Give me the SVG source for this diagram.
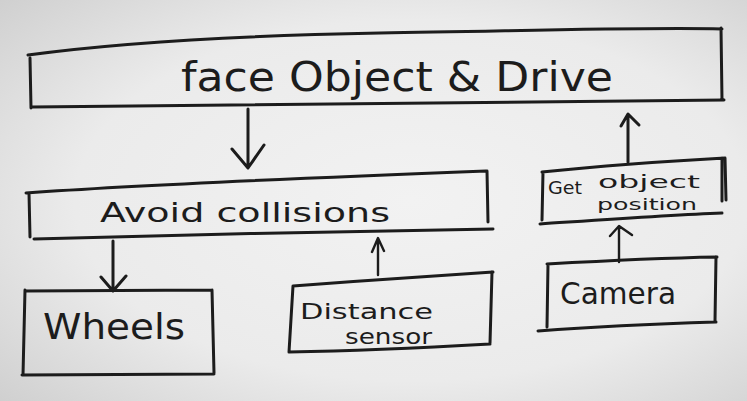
<svg xmlns="http://www.w3.org/2000/svg" width="747" height="401" viewBox="0 0 747 401">
  <defs>
    <radialGradient id="paper" cx="0.55" cy="0.5" r="0.75">
      <stop offset="0" stop-color="#f2f2f2"/>
      <stop offset="0.6" stop-color="#ebebeb"/>
      <stop offset="1" stop-color="#cfcfcf"/>
    </radialGradient>
    <style>
      .ink { fill: none; stroke: #1c1c1c; stroke-width: 3; stroke-linecap: round; stroke-linejoin: round; }
      .thin { fill: none; stroke: #1c1c1c; stroke-width: 2.4; stroke-linecap: round; stroke-linejoin: round; }
      .label { fill: #1c1c1c; font-family: "DejaVu Sans", "Liberation Sans", sans-serif; font-weight: normal; }
    </style>
  </defs>

  <rect width="747" height="401" fill="url(#paper)"/>

  <!-- nodes -->
  <g id="face-object-drive">
    <path class="ink" d="M28,55 C110,44 220,36 380,33 C520,31 640,27 722,29 M721,28 L722,100 M724,100 C600,102 300,104 32,107 M30,58 L31,108"/>
    <text class="label" x="181" y="91" font-size="40" textLength="432" lengthAdjust="spacingAndGlyphs">face Object &amp; Drive</text>
  </g>

  <g id="avoid-collisions">
    <path class="ink" d="M26,193 C150,184 330,177 486,171 M487,171 L488,222 M493,229 C350,231 180,235 34,239 M29,193 L30,237"/>
    <text class="label" x="100" y="222" font-size="26" textLength="290" lengthAdjust="spacingAndGlyphs">Avoid collisions</text>
  </g>

  <g id="wheels">
    <path class="ink" d="M25,291 L212,290 M212,290 L214,373 M214,374 L22,375 M25,290 L23,375"/>
    <text class="label" x="43" y="339" font-size="36" textLength="142" lengthAdjust="spacingAndGlyphs">Wheels</text>
  </g>

  <g id="distance-sensor">
    <path class="ink" d="M293,286 C360,281 430,276 493,272 M492,272 L490,343 M490,344 C420,348 350,351 289,352 M293,286 L289,352"/>
    <text class="label" x="300" y="319" font-size="22" textLength="133" lengthAdjust="spacingAndGlyphs">Distance</text>
    <text class="label" x="345" y="344" font-size="22" textLength="87" lengthAdjust="spacingAndGlyphs">sensor</text>
  </g>

  <g id="get-object-position">
    <path class="ink" d="M542,172 C600,166 670,161 725,158 M722,158 L722,201 M725,158 L726,200 M540,224 C600,220 670,215 722,213 M543,172 L542,220"/>
    <text class="label" x="548" y="194" font-size="17" textLength="34" lengthAdjust="spacingAndGlyphs">Get</text>
    <text class="label" x="598" y="188" font-size="18" textLength="102" lengthAdjust="spacingAndGlyphs">object</text>
    <text class="label" x="597" y="210" font-size="16" textLength="100" lengthAdjust="spacingAndGlyphs">position</text>
  </g>

  <g id="camera">
    <path class="ink" d="M547,264 C600,261 660,258 717,257 M716,257 L715,321 M716,322 C650,324 590,327 538,331 M548,264 L547,327"/>
    <text class="label" x="560" y="304" font-size="30" textLength="116" lengthAdjust="spacingAndGlyphs">Camera</text>
  </g>

  <!-- connectors -->
  <g id="connectors">
    <path class="ink" d="M248,109 L248,167 M232,149 L248,168 L264,145"/>
    <path class="ink" d="M113,241 L113,290 M101,277 L113,291 L126,276"/>
    <path class="thin" d="M378,275 L378,240 M372,252 L378,238 L384,251"/>
    <path class="thin" d="M619,262 L619,229 M610,236 L619,226 L632,235"/>
    <path class="ink" d="M628,162 L628,115 M621,126 L628,114 L639,125"/>
  </g>
</svg>
